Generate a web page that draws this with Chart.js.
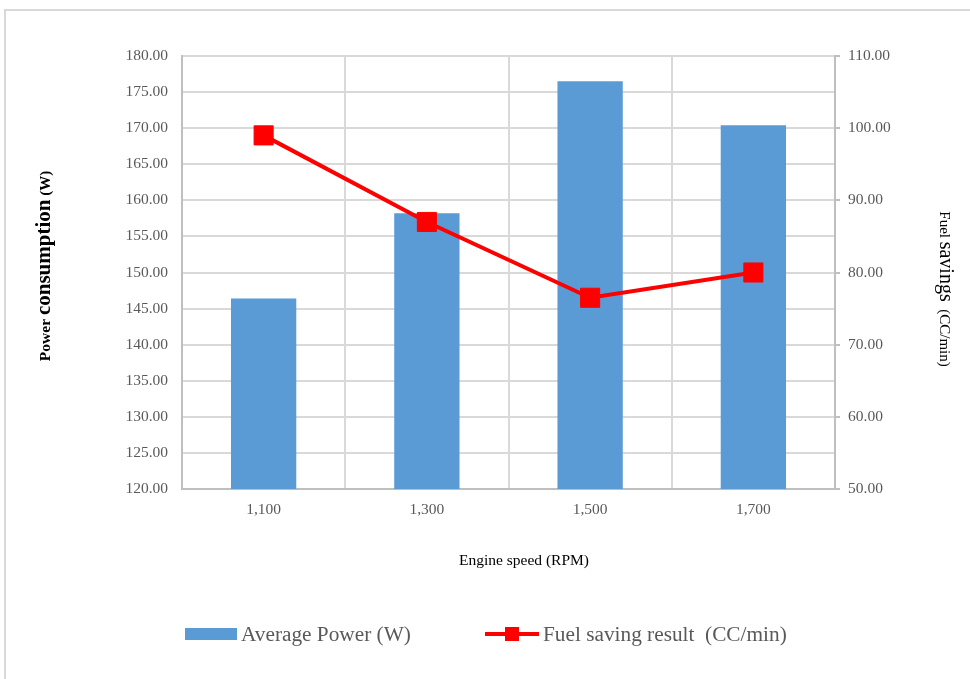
<!DOCTYPE html>
<html>
<head>
<meta charset="utf-8">
<script src="https://cdn.jsdelivr.net/npm/chart.js@4/dist/chart.umd.min.js"></script>
<style>
  html, body { margin: 0; padding: 0; background: #ffffff; }
  #wrap { position: relative; width: 970px; height: 679px; }
</style>
</head>
<body>
<div id="wrap"><canvas id="c" width="970" height="679"></canvas></div>
<script>
// ---- data ----
const categories = ['1,100', '1,300', '1,500', '1,700'];
const averagePower = [146.4, 158.2, 176.5, 170.4];
const fuelSaving = [99.0, 87.0, 76.5, 80.0];
const leftAxisRange = [120, 180, 5];
const rightAxisRange = [50, 110, 10];
const seriesNames = ['Average Power (W)', 'Fuel saving result  (CC/min)'];
const xTitle = 'Engine speed (RPM)';

const SERIF = "'Liberation Serif', 'Times New Roman', serif";
const BLUE = '#5B9BD5';
const RED = '#FF0000';
const TICK = '#595959';

const decorPlugin = {
  id: 'decor',
  beforeDraw(chart) {
    const ctx = chart.ctx;
    ctx.save();
    ctx.strokeStyle = '#d9d9d9';
    ctx.lineWidth = 2;
    ctx.beginPath();
    ctx.moveTo(5, 679);
    ctx.lineTo(5, 10);
    ctx.lineTo(970, 10);
    ctx.stroke();
    ctx.restore();
  },
  afterDraw(chart) {
    const ctx = chart.ctx;
    ctx.save();
    function drawRuns(runs, cx, cy, angle) {
      let total = 0;
      runs.forEach(r => { ctx.font = r.font; r.w = ctx.measureText(r.text).width; total += r.w; });
      ctx.save();
      ctx.translate(cx, cy);
      ctx.rotate(angle);
      ctx.textBaseline = 'alphabetic';
      ctx.textAlign = 'left';
      let x = -total / 2;
      runs.forEach(r => {
        ctx.font = r.font;
        ctx.fillStyle = r.color || '#000';
        ctx.fillText(r.text, x, 6);
        x += r.w;
      });
      ctx.restore();
    }
    // left title
    drawRuns([
      { text: 'Power ', font: 'bold 15.5px ' + SERIF },
      { text: 'consumption', font: 'bold 21px ' + SERIF },
      { text: ' (W)', font: 'bold 15px ' + SERIF }
    ], 44, 266, -Math.PI / 2);
    // right title
    drawRuns([
      { text: 'Fuel ', font: '15px ' + SERIF },
      { text: 'savings', font: '20px ' + SERIF },
      { text: '  (CC/min)', font: '15px ' + SERIF }
    ], 946, 289, Math.PI / 2);
    // x title
    ctx.font = '15.5px ' + SERIF;
    ctx.fillStyle = '#000';
    ctx.textAlign = 'center';
    ctx.textBaseline = 'middle';
    ctx.fillText(xTitle, 524, 561);

    // legend
    const ly = 634;
    const ds0 = chart.data.datasets.find(d => d.type === 'bar');
    const ds1 = chart.data.datasets.find(d => d.type === 'line');
    ctx.fillStyle = ds0.backgroundColor;
    ctx.fillRect(185, ly - 6, 52, 12);
    ctx.font = '21.3px ' + SERIF;
    ctx.fillStyle = TICK;
    ctx.textAlign = 'left';
    ctx.textBaseline = 'middle';
    ctx.fillText(ds0.label, 241, ly + 1);
    ctx.strokeStyle = ds1.borderColor;
    ctx.lineWidth = 4;
    ctx.beginPath();
    ctx.moveTo(485, ly);
    ctx.lineTo(539, ly);
    ctx.stroke();
    ctx.fillStyle = ds1.pointBackgroundColor;
    ctx.fillRect(512 - 7, ly - 7, 14, 14);
    ctx.fillStyle = TICK;
    ctx.fillText(ds1.label, 543, ly + 1);
    ctx.restore();
  }
};

new Chart(document.getElementById('c'), {
  data: {
    labels: categories,
    datasets: [
      {
        type: 'line',
        label: seriesNames[1],
        data: fuelSaving,
        yAxisID: 'y2',
        borderColor: RED,
        borderWidth: 4,
        pointStyle: 'rect',
        pointRadius: 13.5,
        pointHoverRadius: 13.5,
        pointBackgroundColor: RED,
        pointBorderColor: RED,
        pointBorderWidth: 1,
        tension: 0,
        order: 0
      },
      {
        type: 'bar',
        label: seriesNames[0],
        data: averagePower,
        yAxisID: 'y',
        backgroundColor: BLUE,
        borderWidth: 0,
        categoryPercentage: 1.0,
        barPercentage: 0.4,
        order: 1
      }
    ]
  },
  options: {
    responsive: false,
    animation: false,
    devicePixelRatio: 1,
    layout: { padding: { top: 56, left: 0, right: 0, bottom: 0 } },
    plugins: { legend: { display: false }, tooltip: { enabled: false }, title: { display: false } },
    scales: {
      x: {
        type: 'category',
        offset: true,
        grid: { display: true, offset: true, color: '#d9d9d9', lineWidth: 2, drawTicks: false },
        border: { display: true, color: '#bfbfbf', width: 2 },
        ticks: { color: TICK, font: { family: SERIF, size: 15.5 }, padding: 12, maxRotation: 0 },
        afterFit(s) { s.height = 190; }
      },
      y: {
        position: 'left',
        min: leftAxisRange[0],
        max: leftAxisRange[1],
        ticks: {
          stepSize: leftAxisRange[2],
          color: TICK,
          font: { family: SERIF, size: 15.5 },
          padding: 14,
          callback: v => Number(v).toFixed(2)
        },
        grid: { color: '#d9d9d9', lineWidth: 2, drawTicks: false },
        border: { display: true, color: '#bfbfbf', width: 2 },
        afterFit(s) { s.width = 182; }
      },
      y2: {
        position: 'right',
        min: rightAxisRange[0],
        max: rightAxisRange[1],
        ticks: {
          stepSize: rightAxisRange[2],
          color: TICK,
          font: { family: SERIF, size: 15.5 },
          padding: 8,
          callback: v => Number(v).toFixed(2)
        },
        grid: { display: true, drawOnChartArea: false, drawTicks: true, tickLength: 5, color: '#bfbfbf', lineWidth: 2 },
        border: { display: true, color: '#bfbfbf', width: 2 },
        afterFit(s) { s.width = 135; }
      }
    }
  },
  plugins: [decorPlugin]
});
</script>
</body>
</html>
